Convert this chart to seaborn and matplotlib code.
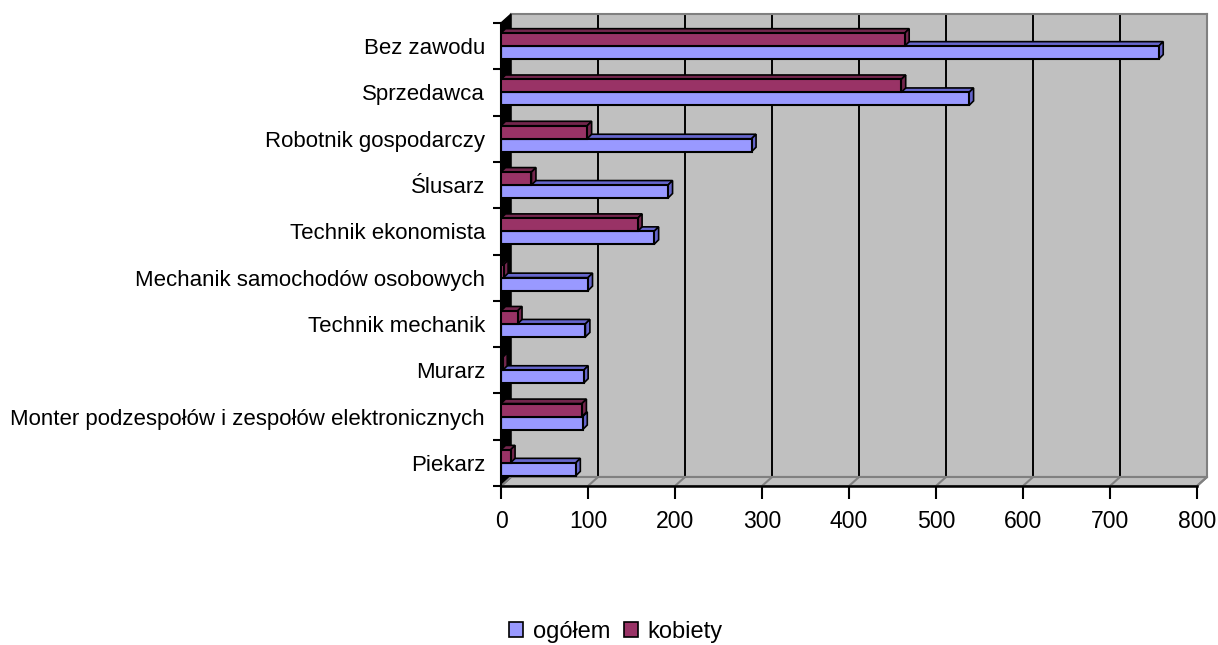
import matplotlib
matplotlib.use("Agg")
import matplotlib.pyplot as plt
import matplotlib.patches as mpatches
import matplotlib.lines as mlines
from matplotlib.colors import to_rgba
import numpy as np
import pandas as pd
import seaborn as sns

# dane z wykresu
zawody = ["Bez zawodu", "Sprzedawca", "Robotnik gospodarczy", "Ślusarz",
          "Technik ekonomista", "Mechanik samochodów osobowych",
          "Technik mechanik", "Murarz",
          "Monter podzespołów i zespołów elektronicznych", "Piekarz"]
ogolem = [756, 538, 288, 192, 176, 100, 97, 95, 94, 86]
kobiety = [464, 460, 99, 35, 157, 3, 19, 2, 93, 11]
x_ticks = [0, 100, 200, 300, 400, 500, 600, 700, 800]

kolory = {"ogółem": "#9999ff", "kobiety": "#993366"}
cienie = {"ogółem": "#6666cc", "kobiety": "#73264d"}

df = pd.DataFrame({
    "zawod": zawody * 2,
    "seria": ["ogółem"] * len(zawody) + ["kobiety"] * len(zawody),
    "liczba": ogolem + kobiety,
})

sns.set_style("white")
plt.rcParams["font.family"] = ["Liberation Sans", "DejaVu Sans"]
plt.rcParams["text.color"] = "black"
plt.rcParams["xtick.color"] = "black"
plt.rcParams["ytick.color"] = "black"

W, H = 1218, 645
fig = plt.figure(figsize=(W / 100, H / 100), dpi=100)

# przednia plaszczyzna (piksele) i glebokosc scian
L, R, T, B = 501, 1197, 23, 486
DX, DY = 10, 9


def rect(l, t, r, b):
    return [l / W, 1 - b / H, (r - l) / W, (b - t) / H]


def fpt(x, y):
    return (x / W, 1 - y / H)


# tylna sciana z siatka
bg = fig.add_axes(rect(L + DX, T - DY, R + DX, B - DY), zorder=0)
bg.set_facecolor("#c0c0c0")
bg.set_xlim(0, 800)
bg.set_ylim(0, 1)
bg.set_xticks(x_ticks)
bg.set_yticks([])
bg.xaxis.grid(True, color="black", lw=1.4)
bg.tick_params(bottom=False, labelbottom=False)
for s in bg.spines.values():
    s.set_color("#808080")
    s.set_linewidth(1.5)

# podloga i lewa sciana
podloga = mpatches.Polygon([fpt(L, B), fpt(R, B), fpt(R + DX, B - DY), fpt(L + DX, B - DY)],
                           closed=True, transform=fig.transFigure, facecolor="#c0c0c0",
                           edgecolor="#808080", lw=1.5, zorder=1)
fig.patches.append(podloga)
sciana = mpatches.Polygon([fpt(L, B), fpt(L, T), fpt(L + DX, T - DY), fpt(L + DX, B - DY)],
                          closed=True, transform=fig.transFigure, facecolor="black",
                          edgecolor="black", lw=1, zorder=1)
fig.patches.append(sciana)

ax = fig.add_axes(rect(L, T, R, B), zorder=2)
ax.patch.set_visible(False)
sns.barplot(data=df, y="zawod", x="liczba", hue="seria", order=zawody,
            hue_order=["kobiety", "ogółem"], palette=kolory, saturation=1,
            width=0.56, edgecolor="black", linewidth=1.5, legend=False, ax=ax)
ax.set_xlim(0, 800)
ax.set_ylim(len(zawody) - 0.5, -0.5)
ax.set_xlabel("")
ax.set_ylabel("")

# linie na podlodze od znacznikow
fig.canvas.draw()
for v in x_ticks:
    x0, y0 = ax.transData.transform((v, len(zawody) - 0.5))
    x1, y1 = bg.transData.transform((v, 0))
    fig.lines.append(mlines.Line2D([x0, x1], [y0, y1], transform=None,
                                   color="#808080", lw=1.5, zorder=1.5))

# efekt 3D slupkow
inv = ax.transData.inverted()
p0 = inv.transform((0, 0))
p1 = inv.transform((4.5, 4.5))
ddx = p1[0] - p0[0]
ddy = p1[1] - p0[1]
for p in list(ax.patches):
    fc = p.get_facecolor()
    seria = "ogółem" if np.allclose(fc, to_rgba(kolory["ogółem"])) else "kobiety"
    z = 1 if seria == "ogółem" else 3
    p.set_zorder(z + 0.5)
    x0, w = p.get_x(), p.get_width()
    y0, h = p.get_y(), p.get_height()
    x1 = x0 + w
    top = [(x0, y0), (x1, y0), (x1 + ddx, y0 + ddy), (x0 + ddx, y0 + ddy)]
    side = [(x1, y0), (x1, y0 + h), (x1 + ddx, y0 + h + ddy), (x1 + ddx, y0 + ddy)]
    for pts in (top, side):
        ax.add_patch(mpatches.Polygon(pts, closed=True, facecolor=cienie[seria],
                                      edgecolor="black", lw=1.2, zorder=z,
                                      clip_on=False))

# osie
ax.set_xticks(x_ticks)
ax.set_xticklabels([str(v) for v in x_ticks])
ax.tick_params(axis="x", direction="out", length=9, width=1.5, color="black",
               pad=8.5, labelsize=16.6, labelcolor="black", bottom=True)
ax.set_yticks(range(len(zawody)))
ax.set_yticklabels(zawody)
ax.set_yticks(np.arange(-0.5, len(zawody), 1), minor=True)
ax.tick_params(axis="y", which="major", length=0, pad=11.5, labelsize=16,
               labelcolor="black")
ax.tick_params(axis="y", which="minor", direction="out", length=6, width=1.5,
               color="black", left=True)
for k in ["top", "right"]:
    ax.spines[k].set_visible(False)
ax.spines["bottom"].set_color("black")
ax.spines["bottom"].set_linewidth(1.8)
ax.spines["left"].set_color("black")
ax.spines["left"].set_linewidth(1.5)

# legenda
uchwyty = [mpatches.Patch(facecolor=kolory[s], edgecolor="black", lw=1.2, label=s)
           for s in ["ogółem", "kobiety"]]
fig.legend(handles=uchwyty, loc="center", bbox_to_anchor=fpt(616, 632), ncol=2,
           frameon=False, handlelength=0.6, handleheight=0.6, handletextpad=0.4,
           columnspacing=0.6, fontsize=17, labelcolor="black")

fig.savefig("out.png", dpi=100)
